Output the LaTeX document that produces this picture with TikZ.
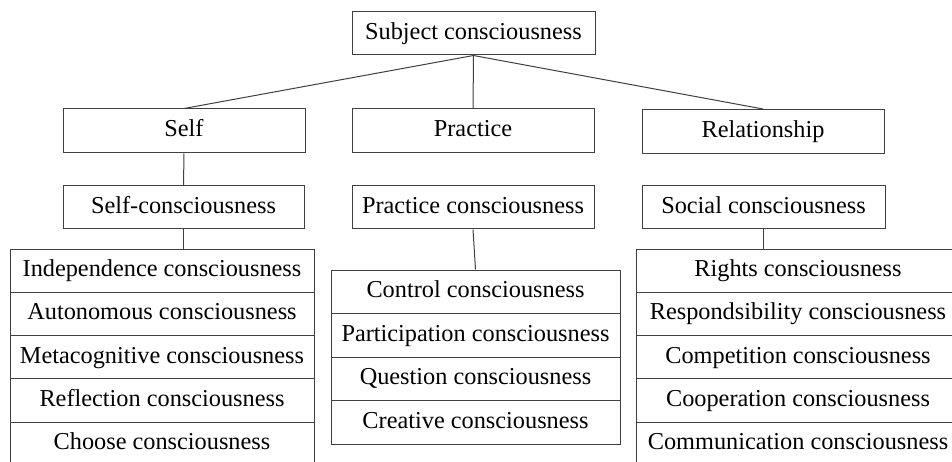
\documentclass[tikz,border=0pt]{standalone}
\usepackage{fontspec}
\setmainfont{Liberation Serif}
\begin{document}
\begin{tikzpicture}[x=1pt,y=-1pt,
  box/.style={draw=black!75,line width=1pt,rectangle,inner sep=0pt,
    minimum width=#1,text height=17pt,text depth=5pt,
    font=\fontsize{24.3}{28}\selectfont},
  box/.default=242pt,
  conn/.style={draw=black!75,line width=1pt}]
\useasboundingbox (0,0) rectangle (952,462);
\clip (0,0) rectangle (952,462);
\fill[white] (0,0) rectangle (952,462);
% top level
\node[box=243pt,minimum height=43pt] (subj) at (473.5,33.5) {Subject consciousness};
\node[box,minimum height=44pt] (self) at (184,131) {Self};
\node[box,minimum height=44pt] (prac) at (473,131) {Practice};
\node[box,minimum height=44pt] (rel) at (763,131.5) {Relationship};
\node[box=241pt,minimum height=43pt] (selfc) at (183.5,207.5) {Self-consciousness};
\node[box,minimum height=43pt] (pracc) at (473,207.5) {Practice consciousness};
\node[box=243pt,minimum height=43pt] (socc) at (763.5,207.5) {Social consciousness};
% left list
\foreach \t [count=\i from 0] in {Independence consciousness,Autonomous consciousness,Metacognitive consciousness,Reflection consciousness,Choose consciousness}{
  \node[box=304pt,minimum height=43.3pt] (l\i) at (162,{249+21.65+\i*43.3}) {\t};
}
% middle list
\foreach \t [count=\i from 0] in {Control consciousness,Participation consciousness,Question consciousness,Creative consciousness}{
  \node[box=289pt,minimum height=43.5pt] (m\i) at (475.5,{270+21.75+\i*43.5}) {\t};
}
% right list
\foreach \t [count=\i from 0] in {Rights consciousness,Respondsibility consciousness,Competition consciousness,Cooperation consciousness,Communication consciousness}{
  \node[box=324pt,minimum height=43.3pt] (r\i) at (798,{249+21.65+\i*43.3}) {\t};
}
% connectors
\draw[conn] (subj.south) -- (self.north);
\draw[conn] (subj.south) -- (prac.north);
\draw[conn] (subj.south) -- (rel.north);
\draw[conn] (self.south) -- (selfc.north);
\draw[conn] (selfc.south) -- (selfc.south |- l0.north);
\draw[conn] (pracc.south) -- (m0.north);
\draw[conn] (socc.south) -- (socc.south |- r0.north);
\end{tikzpicture}
\end{document}
